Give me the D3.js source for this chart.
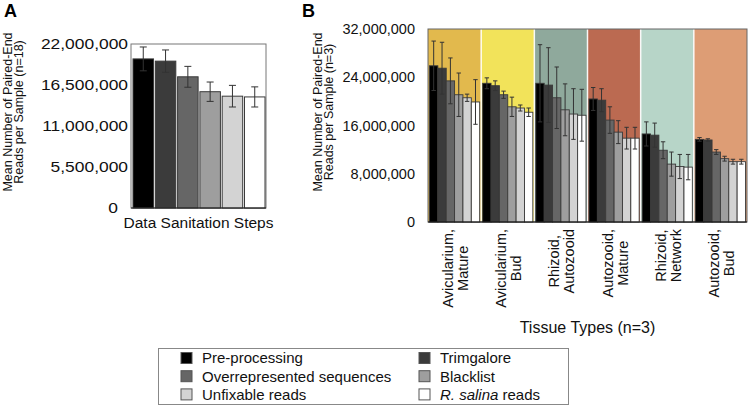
<!DOCTYPE html>
<html>
<head>
<meta charset="utf-8">
<script src="https://cdn.jsdelivr.net/npm/d3@7"></script>
<style>
  html, body { margin: 0; padding: 0; background: #fff; }
  svg { display: block; font-family: "Liberation Sans", Arial, Helvetica, sans-serif; }
</style>
</head>
<body>
<svg id="chart" width="749" height="405"></svg>
<script>
// ---------- DATA ----------
const seriesNames = ["Pre-processing", "Trimgalore", "Overrepresented sequences", "Blacklist", "Unfixable reads", "R. salina reads"];
const seriesColors = ["#000000", "#3b3b3b", "#666666", "#9e9e9e", "#d3d3d3", "#ffffff"];

// Panel A: mean over all samples (n=18)
const aMeans = [20000000, 19700000, 17600000, 15600000, 15000000, 14900000];
const aErrors = [1600000, 1500000, 1400000, 1300000, 1450000, 1350000];
const aTicks = [0, 5500000, 11000000, 16500000, 22000000];

// Panel B: per tissue type (n=3)
const tissues = ["Avicularium, Mature", "Avicularium, Bud", "Rhizoid, Autozooid", "Autozooid, Mature", "Rhizoid, Network", "Autozooid, Bud"];
const tissueColors = ["#e2b94d", "#f2e35a", "#8fa99c", "#bb6a51", "#b7d5c8", "#dd9d75"];
const bPreprocessing   = [25900000, 23000000, 23000000, 20400000, 14600000, 13700000];
const bTrimgalore      = [25500000, 22600000, 22700000, 20200000, 14400000, 13600000];
const bOverrepresented = [23400000, 21100000, 20600000, 16900000, 11900000, 11600000];
const bBlacklist       = [21100000, 19100000, 18600000, 14900000, 9600000, 10500000];
const bUnfixable       = [20600000, 18900000, 17900000, 13900000, 9200000, 10000000];
const bRsalina         = [19900000, 18200000, 17700000, 13900000, 9100000, 10000000];
const bErrPreprocessing   = [4100000, 900000, 6400000, 1900000, 2000000, 300000];
const bErrTrimgalore      = [4300000, 800000, 6200000, 1900000, 2000000, 200000];
const bErrOverrepresented = [3800000, 600000, 5100000, 2200000, 1400000, 400000];
const bErrBlacklist       = [3600000, 1600000, 4300000, 1900000, 2000000, 400000];
const bErrUnfixable       = [600000, 500000, 4200000, 1800000, 2000000, 400000];
const bErrRsalina         = [3700000, 700000, 4300000, 1800000, 2100000, 400000];
const bTicks = [0, 8000000, 16000000, 24000000, 32000000];

const bMeans = [bPreprocessing, bTrimgalore, bOverrepresented, bBlacklist, bUnfixable, bRsalina];
const bErrors = [bErrPreprocessing, bErrTrimgalore, bErrOverrepresented, bErrBlacklist, bErrUnfixable, bErrRsalina];

// ---------- DRAW ----------
const svg = d3.select("#chart");
const fmt = d3.format(",");
const errColor = "#333";
const barStroke = "#3a3a3a";

// ===== Panel A =====
const aBox = {x0: 131, x1: 266, y0: 44, y1: 208};
const yA = d3.scaleLinear().domain([0, 22000000]).range([aBox.y1, aBox.y0]);
const xA = d3.scaleBand().domain(seriesNames).range([aBox.x0 + 2, aBox.x1 - 1]).paddingInner(0.08);

svg.append("text").attr("x", 4).attr("y", 17).attr("font-size", 18).attr("font-weight", "bold").text("A");

svg.append("rect").attr("x", aBox.x0).attr("y", aBox.y0)
  .attr("width", aBox.x1 - aBox.x0).attr("height", aBox.y1 - aBox.y0)
  .attr("fill", "none").attr("stroke", "#777").attr("stroke-width", 1);

const gA = svg.append("g");
gA.selectAll("rect.bar").data(seriesNames).join("rect")
  .attr("class", "bar")
  .attr("x", d => xA(d)).attr("width", xA.bandwidth())
  .attr("y", (d, i) => yA(aMeans[i])).attr("height", (d, i) => yA(0) - yA(aMeans[i]))
  .attr("fill", (d, i) => seriesColors[i]).attr("stroke", barStroke).attr("stroke-width", 1);

const errA = gA.selectAll("g.err").data(seriesNames).join("g").attr("class", "err")
  .attr("stroke", errColor).attr("stroke-width", 1);
errA.append("line")
  .attr("x1", d => xA(d) + xA.bandwidth() / 2).attr("x2", d => xA(d) + xA.bandwidth() / 2)
  .attr("y1", (d, i) => yA(aMeans[i] + aErrors[i])).attr("y2", (d, i) => yA(aMeans[i] - aErrors[i]));
errA.append("line")
  .attr("x1", d => xA(d) + xA.bandwidth() / 2 - 3.5).attr("x2", d => xA(d) + xA.bandwidth() / 2 + 3.5)
  .attr("y1", (d, i) => yA(aMeans[i] + aErrors[i])).attr("y2", (d, i) => yA(aMeans[i] + aErrors[i]));
errA.append("line")
  .attr("x1", d => xA(d) + xA.bandwidth() / 2 - 3.5).attr("x2", d => xA(d) + xA.bandwidth() / 2 + 3.5)
  .attr("y1", (d, i) => yA(aMeans[i] - aErrors[i])).attr("y2", (d, i) => yA(aMeans[i] - aErrors[i]));

svg.append("line").attr("x1", aBox.x0).attr("x2", aBox.x1).attr("y1", aBox.y1).attr("y2", aBox.y1)
  .attr("stroke", "#222").attr("stroke-width", 1);

const axA = svg.append("g").attr("transform", `translate(${aBox.x0 - 3},0)`)
  .call(d3.axisLeft(yA).tickValues(aTicks).tickFormat(fmt).tickSize(0).tickPadding(0));
axA.select(".domain").remove();
axA.selectAll("text").attr("font-size", 14.5).attr("font-family", "Liberation Sans, Arial, sans-serif").attr("fill", "#111")
  .each(function(d) {
    const w = this.getComputedTextLength();
    d3.select(this).attr("textLength", w * 1.2).attr("lengthAdjust", "spacingAndGlyphs");
    if (d === 0) d3.select(this).attr("dx", -10);
  });

svg.append("text").attr("x", (aBox.x0 + aBox.x1) / 2).attr("y", 228)
  .attr("text-anchor", "middle").attr("font-size", 15.5).attr("fill", "#111").text("Data Sanitation Steps");

const titleA = svg.append("text").attr("transform", "translate(0,112) rotate(-90)")
  .attr("text-anchor", "middle").attr("font-size", 12.5).attr("fill", "#111");
titleA.append("tspan").attr("x", 0).attr("y", 12).text("Mean Number of Paired-End");
titleA.append("tspan").attr("x", 0).attr("y", 22.5).text("Reads per Sample (n=18)");

// ===== Panel B =====
const bBox = {x0: 428, x1: 747, y0: 29, y1: 222};
const yB = d3.scaleLinear().domain([0, 32000000]).range([bBox.y1, bBox.y0]);
const x0B = d3.scaleBand().domain(tissues).range([bBox.x0, bBox.x1]).padding(0);
const x1B = d3.scaleBand().domain(seriesNames).range([1.5, x0B.bandwidth() - 1.5]).padding(0);

svg.append("text").attr("x", 302).attr("y", 17).attr("font-size", 18).attr("font-weight", "bold").text("B");

// background sections
svg.append("g").selectAll("rect").data(tissues).join("rect")
  .attr("x", d => x0B(d)).attr("width", x0B.bandwidth())
  .attr("y", bBox.y0).attr("height", bBox.y1 - bBox.y0)
  .attr("fill", (d, i) => tissueColors[i]);
svg.append("g").selectAll("line").data(tissues.slice(1)).join("line")
  .attr("x1", d => x0B(d)).attr("x2", d => x0B(d))
  .attr("y1", bBox.y0).attr("y2", bBox.y1)
  .attr("stroke", "#fff").attr("stroke-width", 1.5).attr("stroke-opacity", 0.9);
svg.append("rect").attr("x", bBox.x0).attr("y", bBox.y0)
  .attr("width", bBox.x1 - bBox.x0).attr("height", bBox.y1 - bBox.y0)
  .attr("fill", "none").attr("stroke", "#666").attr("stroke-width", 1);

const gB = svg.append("g");
const groups = gB.selectAll("g.tissue").data(tissues).join("g").attr("class", "tissue")
  .attr("transform", d => `translate(${x0B(d)},0)`);
groups.each(function(t, ti) {
  const g = d3.select(this);
  const rows = seriesNames.map((s, si) => ({s, si, v: bMeans[si][ti], e: bErrors[si][ti]}));
  g.selectAll("rect").data(rows).join("rect")
    .attr("x", d => x1B(d.s)).attr("width", x1B.bandwidth())
    .attr("y", d => yB(d.v)).attr("height", d => yB(0) - yB(d.v))
    .attr("fill", d => seriesColors[d.si]).attr("stroke", barStroke).attr("stroke-width", 0.9);
  const eg = g.selectAll("g.err").data(rows).join("g").attr("class", "err")
    .attr("stroke", errColor).attr("stroke-width", 1);
  const cx = d => x1B(d.s) + x1B.bandwidth() / 2;
  eg.append("line").attr("x1", cx).attr("x2", cx)
    .attr("y1", d => yB(d.v + d.e)).attr("y2", d => yB(d.v - d.e));
  eg.append("line").attr("x1", d => cx(d) - 2.2).attr("x2", d => cx(d) + 2.2)
    .attr("y1", d => yB(d.v + d.e)).attr("y2", d => yB(d.v + d.e));
  eg.append("line").attr("x1", d => cx(d) - 2.2).attr("x2", d => cx(d) + 2.2)
    .attr("y1", d => yB(d.v - d.e)).attr("y2", d => yB(d.v - d.e));
});

svg.append("line").attr("x1", bBox.x0).attr("x2", bBox.x1).attr("y1", bBox.y1).attr("y2", bBox.y1)
  .attr("stroke", "#111").attr("stroke-width", 1.2);

const axB = svg.append("g").attr("transform", `translate(${bBox.x0 - 13},0)`)
  .call(d3.axisLeft(yB).tickValues(bTicks).tickFormat(fmt).tickSize(0).tickPadding(0));
axB.select(".domain").remove();
axB.selectAll("text").attr("font-size", 14.5).attr("font-family", "Liberation Sans, Arial, sans-serif").attr("fill", "#111");

const titleB = svg.append("text").attr("transform", "translate(310,112) rotate(-90)")
  .attr("text-anchor", "middle").attr("font-size", 12.5).attr("fill", "#111");
titleB.append("tspan").attr("x", 0).attr("y", 12).text("Mean Number of Paired-End");
titleB.append("tspan").attr("x", 0).attr("y", 22.5).text("Reads per Sample (n=3)");

// category labels (two lines, rotated)
const catG = svg.append("g");
tissues.forEach(t => {
  const lines = t.split(" ");
  const lineTexts = [lines[0], lines.slice(1).join(" ")];
  const cx = x0B(t) + x0B.bandwidth() / 2;
  const tg = catG.append("g");
  const nodes = lineTexts.map((lt, li) => tg.append("text")
    .attr("text-anchor", "middle").attr("font-size", 14.5).attr("fill", "#111").text(lt));
  const L = d3.max(nodes, n => n.node().getComputedTextLength());
  const cy = 229 + L / 2;
  nodes.forEach((n, li) => {
    const bx = cx + (li === 0 ? -1.5 : 13.5);
    n.attr("transform", `translate(${bx},${cy}) rotate(-90)`);
  });
});

svg.append("text").attr("x", (bBox.x0 + bBox.x1) / 2).attr("y", 333)
  .attr("text-anchor", "middle").attr("font-size", 16).attr("fill", "#111").text("Tissue Types (n=3)");

// ===== Legend =====
const leg = svg.append("g");
leg.append("rect").attr("x", 158.5).attr("y", 348.5).attr("width", 410).attr("height", 56)
  .attr("fill", "#fff").attr("stroke", "#888").attr("stroke-width", 1);
const legendOrder = [0, 2, 4, 1, 3, 5];
legendOrder.forEach((si, k) => {
  const col = Math.floor(k / 3), row = k % 3;
  const sx = col === 0 ? 181 : 419;
  const tx = col === 0 ? 202 : 440;
  const cyRow = 358 + row * 18.2;
  leg.append("rect").attr("x", sx).attr("y", cyRow - 5.5).attr("width", 11).attr("height", 11)
    .attr("fill", seriesColors[si]).attr("stroke", "#555").attr("stroke-width", 1);
  const txt = leg.append("text").attr("x", tx).attr("y", cyRow + 5.3).attr("font-size", 15).attr("fill", "#111");
  if (si === 5) {
    txt.append("tspan").attr("font-style", "italic").text("R. salina");
    txt.append("tspan").text(" reads");
  } else {
    txt.text(seriesNames[si]);
  }
});
</script>
</body>
</html>
